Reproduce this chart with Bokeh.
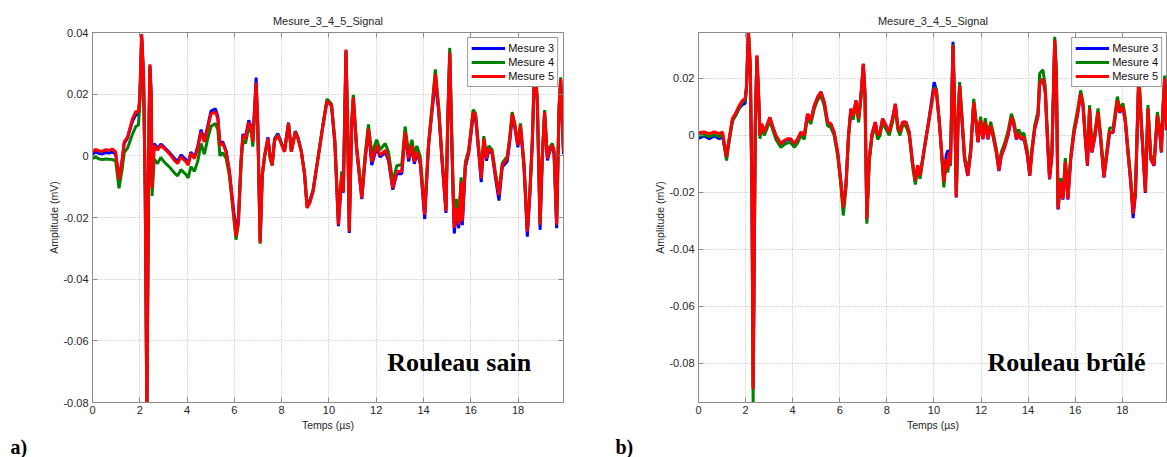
from bokeh.plotting import figure
from bokeh.models import (Range1d, FixedTicker, CustomJSTickFormatter, LinearAxis,
                          Legend, LegendItem, Label, Title)
from bokeh.layouts import row
from bokeh.embed import file_html
from bokeh.resources import INLINE

# ---------------- data ----------------
title_text = "Mesure_3_4_5_Signal"
series_names = ["Mesure 3", "Mesure 4", "Mesure 5"]
x_ticks = [0, 2, 4, 6, 8, 10, 12, 14, 16, 18]
y_ticks_a = [-0.08, -0.06, -0.04, -0.02, 0.0, 0.02, 0.04]
y_ticks_b = [-0.08, -0.06, -0.04, -0.02, 0.0, 0.02]

# panel a) Rouleau sain
t_a = [0.00, 0.13, 0.28, 0.42, 0.56, 0.70, 0.84, 0.98, 1.12, 1.26,
       1.34, 1.48, 1.69, 1.83, 1.94, 2.00, 2.08, 2.16, 2.23, 2.30,
       2.34, 2.39, 2.43, 2.48, 2.52, 2.61, 2.75, 2.89, 3.03, 3.24,
       3.46, 3.60, 3.74, 3.95, 4.05, 4.16, 4.31, 4.45, 4.59, 4.73,
       4.87, 5.01, 5.20, 5.30, 5.39, 5.51, 5.65, 5.79, 5.93, 6.07,
       6.17, 6.29, 6.36, 6.47, 6.61, 6.72, 6.78, 6.92, 6.99, 7.09,
       7.18, 7.28, 7.42, 7.52, 7.60, 7.70, 7.84, 7.98, 8.12, 8.29,
       8.41, 8.58, 8.69, 8.83, 8.97, 9.07, 9.19, 9.33, 9.54, 9.75,
       9.92, 10.11, 10.25, 10.40, 10.54, 10.61, 10.72, 10.79, 10.86, 10.96,
       11.03, 11.17, 11.39, 11.53, 11.67, 11.81, 12.02, 12.16, 12.38, 12.52,
       12.70, 12.87, 13.08, 13.22, 13.37, 13.51, 13.61, 13.72, 13.86, 14.05,
       14.21, 14.36, 14.50, 14.64, 14.78, 14.95, 15.02, 15.11, 15.18, 15.25,
       15.30, 15.39, 15.49, 15.59, 15.64, 15.77, 15.91, 16.10, 16.20, 16.34,
       16.44, 16.55, 16.66, 16.76, 16.90, 17.04, 17.19, 17.33, 17.54, 17.65,
       17.75, 17.86, 17.99, 18.10, 18.25, 18.39, 18.50, 18.60, 18.70, 18.81,
       18.93, 19.02, 19.12, 19.24, 19.35, 19.45, 19.52, 19.63, 19.73, 19.80,
       19.92, 20.00]

a_m3 = [0.0005, 0.0012, 0.0008, 0.0006, 0.0011, 0.0009, 0.0013, 0.0005, -0.0080, -0.0012,
        0.0040, 0.0058, 0.0112, 0.0132, 0.0135, 0.0185, 0.0390, 0.0255, -0.0118, -0.0850,
        -0.0400, 0.0110, 0.0292, 0.0200, -0.0100, 0.0040, 0.0024, 0.0038, 0.0028, 0.0012,
        -0.0008, -0.0018, 0.0003, -0.0012, -0.0024, 0.0012, -0.0004, 0.0030, 0.0085, 0.0052,
        0.0095, 0.0145, 0.0152, 0.0128, 0.0040, 0.0046, 0.0016, -0.0050, -0.0150, -0.0240,
        -0.0200, -0.0005, 0.0070, 0.0062, 0.0115, 0.0092, 0.0050, 0.0254, 0.0104, -0.0275,
        -0.0060, 0.0000, 0.0060, -0.0004, -0.0025, 0.0055, 0.0072, 0.0044, 0.0016, 0.0108,
        0.0016, 0.0080, 0.0060, 0.0016, -0.0058, -0.0155, -0.0145, -0.0110, -0.0005, 0.0100,
        0.0182, 0.0160, 0.0040, -0.0228, -0.0068, -0.0120, 0.0340, 0.0095, -0.0250, 0.0095,
        0.0185, 0.0020, -0.0140, -0.0012, 0.0085, -0.0030, 0.0028, -0.0004, 0.0012, -0.0015,
        -0.0110, -0.0058, -0.0058, 0.0072, -0.0018, 0.0028, -0.0026, 0.0008, -0.0024, -0.0205,
        0.0028, 0.0145, 0.0240, 0.0145, -0.0015, -0.0185, 0.0094, 0.0330, 0.0094, -0.0125,
        -0.0252, -0.0180, -0.0235, -0.0090, -0.0225, -0.0036, 0.0008, 0.0130, 0.0125, 0.0005,
        -0.0085, 0.0050, -0.0016, 0.0018, 0.0008, -0.0070, -0.0145, -0.0036, -0.0018, 0.0048,
        0.0128, 0.0092, 0.0028, 0.0092, -0.0038, -0.0262, -0.0122, 0.0040, 0.0290, 0.0178,
        -0.0240, -0.0015, 0.0136, -0.0015, 0.0018, 0.0028, 0.0006, -0.0235, 0.0146, 0.0245,
        0.0006, 0.0092]

a_m4 = [-0.0008, -0.0004, -0.0010, -0.0012, -0.0010, -0.0011, -0.0012, -0.0016, -0.0105, -0.0040,
        0.0010, 0.0025, 0.0070, 0.0095, 0.0100, 0.0160, 0.0380, 0.0250, -0.0120, -0.0840,
        -0.0400, 0.0090, 0.0285, 0.0190, -0.0130, -0.0010, -0.0025, -0.0005, -0.0020, -0.0035,
        -0.0055, -0.0065, -0.0045, -0.0060, -0.0072, -0.0035, -0.0050, -0.0018, 0.0040, 0.0005,
        0.0055, 0.0095, 0.0105, 0.0085, 0.0000, 0.0010, -0.0008, -0.0065, -0.0168, -0.0272,
        -0.0222, -0.0018, 0.0050, 0.0040, 0.0092, 0.0075, 0.0030, 0.0220, 0.0090, -0.0285,
        -0.0065, -0.0002, 0.0052, -0.0012, -0.0032, 0.0048, 0.0068, 0.0042, 0.0015, 0.0106,
        0.0015, 0.0078, 0.0058, 0.0015, -0.0060, -0.0165, -0.0150, -0.0112, -0.0004, 0.0104,
        0.0184, 0.0168, 0.0052, -0.0205, -0.0050, -0.0100, 0.0340, 0.0108, -0.0240, 0.0110,
        0.0198, 0.0034, -0.0125, 0.0004, 0.0102, 0.0008, 0.0052, 0.0020, 0.0040, 0.0012,
        -0.0085, -0.0032, -0.0028, 0.0095, 0.0010, 0.0052, 0.0002, 0.0032, -0.0002, -0.0180,
        0.0040, 0.0160, 0.0280, 0.0160, 0.0000, -0.0170, 0.0110, 0.0350, 0.0110, -0.0100,
        -0.0220, -0.0140, -0.0210, -0.0070, -0.0200, -0.0020, 0.0020, 0.0150, 0.0138, 0.0022,
        -0.0065, 0.0064, 0.0000, 0.0032, 0.0020, -0.0055, -0.0120, -0.0024, -0.0002, 0.0064,
        0.0142, 0.0105, 0.0040, 0.0105, -0.0024, -0.0240, -0.0110, 0.0050, 0.0300, 0.0188,
        -0.0218, -0.0004, 0.0148, -0.0004, 0.0030, 0.0040, 0.0018, -0.0218, 0.0158, 0.0255,
        0.0018, 0.0104]

a_m5 = [0.0013, 0.0021, 0.0016, 0.0015, 0.0020, 0.0018, 0.0022, 0.0013, -0.0078, -0.0009,
        0.0045, 0.0061, 0.0120, 0.0144, 0.0142, 0.0190, 0.0395, 0.0260, -0.0116, -0.0860,
        -0.0400, 0.0120, 0.0297, 0.0206, -0.0105, 0.0034, 0.0018, 0.0034, 0.0024, 0.0008,
        -0.0014, -0.0025, -0.0003, -0.0019, -0.0030, 0.0008, -0.0009, 0.0024, 0.0077, 0.0045,
        0.0088, 0.0136, 0.0142, 0.0120, 0.0034, 0.0040, 0.0013, -0.0051, -0.0159, -0.0261,
        -0.0212, -0.0009, 0.0066, 0.0056, 0.0109, 0.0088, 0.0045, 0.0238, 0.0099, -0.0282,
        -0.0062, 0.0002, 0.0056, -0.0009, -0.0030, 0.0050, 0.0066, 0.0040, 0.0013, 0.0104,
        0.0013, 0.0077, 0.0056, 0.0013, -0.0062, -0.0169, -0.0153, -0.0116, -0.0009, 0.0099,
        0.0179, 0.0163, 0.0045, -0.0223, -0.0062, -0.0116, 0.0345, 0.0099, -0.0245, 0.0099,
        0.0190, 0.0024, -0.0137, -0.0009, 0.0088, -0.0019, 0.0034, 0.0002, 0.0018, -0.0009,
        -0.0105, -0.0051, -0.0051, 0.0077, -0.0009, 0.0034, -0.0019, 0.0013, -0.0019, -0.0191,
        0.0034, 0.0152, 0.0265, 0.0152, -0.0009, -0.0180, 0.0099, 0.0335, 0.0099, -0.0116,
        -0.0234, -0.0169, -0.0223, -0.0084, -0.0212, -0.0030, 0.0013, 0.0142, 0.0131, 0.0013,
        -0.0073, 0.0056, -0.0009, 0.0024, 0.0013, -0.0062, -0.0127, -0.0030, -0.0009, 0.0056,
        0.0136, 0.0099, 0.0034, 0.0099, -0.0030, -0.0245, -0.0116, 0.0045, 0.0300, 0.0184,
        -0.0223, -0.0009, 0.0142, -0.0009, 0.0024, 0.0034, 0.0013, -0.0223, 0.0152, 0.0250,
        0.0013, 0.0099]

# panel b) Rouleau brûlé
t_b = [0.00, 0.24, 0.45, 0.67, 0.88, 1.02, 1.19, 1.30, 1.44, 1.59,
       1.73, 1.87, 1.98, 2.04, 2.12, 2.20, 2.27, 2.32, 2.38, 2.41,
       2.48, 2.55, 2.61, 2.68, 2.79, 2.90, 3.03, 3.14, 3.29, 3.50,
       3.64, 3.78, 3.92, 4.07, 4.21, 4.35, 4.49, 4.63, 4.77, 4.92,
       5.06, 5.20, 5.34, 5.48, 5.62, 5.76, 5.91, 6.05, 6.15, 6.26,
       6.37, 6.47, 6.57, 6.69, 6.80, 6.90, 7.00, 7.07, 7.15, 7.25,
       7.37, 7.51, 7.61, 7.71, 7.82, 7.96, 8.10, 8.24, 8.36, 8.46,
       8.56, 8.67, 8.81, 8.95, 9.09, 9.21, 9.31, 9.41, 9.59, 9.80,
       10.01, 10.10, 10.24, 10.42, 10.52, 10.59, 10.66, 10.70, 10.81, 10.88,
       10.95, 11.02, 11.09, 11.16, 11.30, 11.44, 11.56, 11.69, 11.80, 11.87,
       11.98, 12.08, 12.18, 12.29, 12.41, 12.51, 12.65, 12.76, 12.86, 13.00,
       13.14, 13.29, 13.40, 13.50, 13.60, 13.71, 13.82, 13.97, 14.07, 14.16,
       14.28, 14.42, 14.49, 14.63, 14.73, 14.82, 14.91, 15.01, 15.13, 15.20,
       15.27, 15.38, 15.48, 15.58, 15.69, 15.81, 15.95, 16.09, 16.23, 16.33,
       16.43, 16.52, 16.61, 16.71, 16.83, 16.97, 17.08, 17.22, 17.32, 17.46,
       17.61, 17.79, 17.89, 18.03, 18.13, 18.24, 18.36, 18.46, 18.56, 18.70,
       18.81, 18.98, 19.09, 19.21, 19.35, 19.49, 19.59, 19.66, 19.73, 19.80,
       19.87]

b_m3 = [-0.0010, -0.0002, -0.0012, -0.0002, -0.0012, -0.0002, -0.0078, -0.0016, 0.0052, 0.0072,
        0.0095, 0.0108, 0.0112, 0.0165, 0.0365, 0.0240, -0.0205, -0.0885, -0.0300, 0.0030,
        0.0278, 0.0150, 0.0000, 0.0040, 0.0010, 0.0033, 0.0062, 0.0033, -0.0002, -0.0030,
        -0.0020, -0.0014, -0.0014, -0.0030, -0.0014, 0.0010, -0.0002, 0.0074, 0.0052, 0.0104,
        0.0134, 0.0152, 0.0116, 0.0046, 0.0040, 0.0010, -0.0060, -0.0166, -0.0255, -0.0178,
        -0.0002, 0.0092, 0.0068, 0.0122, 0.0058, 0.0140, 0.0250, 0.0150, -0.0295, -0.0084,
        0.0004, 0.0046, -0.0002, 0.0010, 0.0058, 0.0034, 0.0010, 0.0058, 0.0110, 0.0034,
        0.0010, 0.0046, 0.0046, 0.0010, -0.0096, -0.0160, -0.0106, -0.0142, -0.0045, 0.0064,
        0.0187, 0.0160, 0.0034, -0.0166, -0.0070, -0.0053, -0.0060, -0.0100, 0.0328, 0.0094,
        -0.0218, 0.0034, 0.0175, 0.0092, -0.0084, -0.0142, -0.0060, 0.0116, 0.0034, -0.0024,
        0.0052, -0.0014, 0.0046, -0.0014, 0.0034, -0.0002, -0.0060, -0.0125, -0.0072, -0.0042,
        -0.0002, 0.0062, 0.0034, -0.0014, 0.0004, -0.0014, -0.0008, -0.0072, -0.0142, -0.0060,
        0.0022, 0.0068, 0.0180, 0.0198, 0.0150, -0.0014, -0.0154, -0.0072, 0.0332, 0.0210,
        -0.0260, -0.0166, -0.0225, -0.0096, -0.0225, -0.0084, 0.0010, 0.0068, 0.0145, 0.0104,
        -0.0014, -0.0107, 0.0092, -0.0060, -0.0008, 0.0080, -0.0014, -0.0148, -0.0084, 0.0010,
        0.0010, 0.0122, 0.0080, 0.0098, 0.0046, -0.0060, -0.0170, -0.0290, -0.0205, 0.0208,
        0.0034, -0.0202, 0.0092, -0.0084, -0.0107, 0.0068, 0.0010, -0.0060, 0.0092, 0.0198,
        0.0018]

b_m4 = [-0.0002, 0.0002, -0.0004, 0.0002, -0.0004, 0.0002, -0.0088, -0.0024, 0.0050, 0.0072,
        0.0098, 0.0116, 0.0124, 0.0168, 0.0360, 0.0240, -0.0210, -0.0940, -0.0320, 0.0025,
        0.0272, 0.0140, -0.0012, 0.0030, 0.0000, 0.0022, 0.0052, 0.0022, -0.0014, -0.0042,
        -0.0032, -0.0026, -0.0026, -0.0042, -0.0026, 0.0000, -0.0014, 0.0064, 0.0040, 0.0094,
        0.0124, 0.0140, 0.0104, 0.0034, 0.0028, 0.0000, -0.0072, -0.0178, -0.0281, -0.0190,
        -0.0014, 0.0082, 0.0056, 0.0112, 0.0046, 0.0130, 0.0244, 0.0140, -0.0310, -0.0095,
        -0.0006, 0.0034, -0.0014, 0.0000, 0.0046, 0.0022, 0.0000, 0.0046, 0.0100, 0.0022,
        0.0000, 0.0034, 0.0034, 0.0000, -0.0108, -0.0172, -0.0118, -0.0152, -0.0052, 0.0058,
        0.0168, 0.0162, 0.0040, -0.0182, -0.0090, -0.0130, -0.0068, -0.0108, 0.0320, 0.0100,
        -0.0215, 0.0045, 0.0187, 0.0104, -0.0070, -0.0130, -0.0046, 0.0128, 0.0046, -0.0010,
        0.0066, 0.0000, 0.0060, 0.0000, 0.0048, 0.0012, -0.0046, -0.0110, -0.0058, -0.0028,
        0.0012, 0.0076, 0.0048, 0.0002, 0.0020, 0.0002, 0.0008, -0.0056, -0.0128, -0.0046,
        0.0036, 0.0084, 0.0217, 0.0230, 0.0172, 0.0002, -0.0140, -0.0056, 0.0346, 0.0224,
        -0.0245, -0.0150, -0.0210, -0.0080, -0.0210, -0.0070, 0.0026, 0.0084, 0.0158, 0.0118,
        0.0002, -0.0092, 0.0106, -0.0046, 0.0008, 0.0095, 0.0002, -0.0132, -0.0068, 0.0026,
        0.0026, 0.0136, 0.0094, 0.0112, 0.0060, -0.0046, -0.0150, -0.0262, -0.0186, 0.0222,
        0.0048, -0.0186, 0.0106, -0.0068, -0.0092, 0.0082, 0.0026, -0.0046, 0.0106, 0.0210,
        0.0032]

b_m5 = [0.0009, 0.0012, 0.0006, 0.0012, 0.0006, 0.0012, -0.0076, -0.0012, 0.0059, 0.0080,
        0.0105, 0.0123, 0.0129, 0.0176, 0.0370, 0.0246, -0.0200, -0.0890, -0.0300, 0.0035,
        0.0281, 0.0152, 0.0000, 0.0041, 0.0012, 0.0035, 0.0064, 0.0035, 0.0000, -0.0029,
        -0.0018, -0.0012, -0.0012, -0.0029, -0.0012, 0.0012, 0.0000, 0.0076, 0.0053, 0.0105,
        0.0135, 0.0152, 0.0117, 0.0047, 0.0041, 0.0012, -0.0059, -0.0164, -0.0252, -0.0176,
        0.0000, 0.0094, 0.0070, 0.0123, 0.0059, 0.0141, 0.0252, 0.0152, -0.0293, -0.0082,
        0.0006, 0.0047, 0.0000, 0.0012, 0.0059, 0.0035, 0.0012, 0.0059, 0.0111, 0.0035,
        0.0012, 0.0047, 0.0047, 0.0012, -0.0094, -0.0158, -0.0105, -0.0141, -0.0047, 0.0059,
        0.0164, 0.0158, 0.0035, -0.0164, -0.0082, -0.0117, -0.0059, -0.0100, 0.0316, 0.0094,
        -0.0217, 0.0035, 0.0176, 0.0094, -0.0082, -0.0141, -0.0059, 0.0117, 0.0035, -0.0023,
        0.0053, -0.0012, 0.0047, -0.0012, 0.0035, 0.0000, -0.0059, -0.0123, -0.0070, -0.0041,
        0.0000, 0.0064, 0.0035, -0.0012, 0.0006, -0.0012, -0.0006, -0.0070, -0.0141, -0.0059,
        0.0023, 0.0070, 0.0182, 0.0199, 0.0152, -0.0012, -0.0152, -0.0070, 0.0334, 0.0211,
        -0.0258, -0.0164, -0.0223, -0.0094, -0.0223, -0.0082, 0.0012, 0.0070, 0.0146, 0.0105,
        -0.0012, -0.0105, 0.0094, -0.0059, -0.0006, 0.0082, -0.0012, -0.0146, -0.0082, 0.0012,
        0.0012, 0.0123, 0.0082, 0.0100, 0.0047, -0.0059, -0.0164, -0.0275, -0.0199, 0.0210,
        0.0035, -0.0199, 0.0094, -0.0082, -0.0105, 0.0070, 0.0012, -0.0059, 0.0094, 0.0200,
        0.0020]

# ---------------- styling ----------------
SANS = "Liberation Sans"
SERIF = "Liberation Serif"
AX_COL = "#8c8c8c"
TXT_COL = "#262626"
COLORS = ["#0000ff", "#008000", "#ff0000"]


def style_axis(ax, labels=True):
    ax.axis_line_color = AX_COL
    ax.major_tick_line_color = AX_COL
    ax.major_tick_in = 5
    ax.major_tick_out = 0
    ax.minor_tick_line_color = None
    ax.major_label_text_font = SANS
    ax.major_label_text_font_size = "11px"
    ax.major_label_text_color = TXT_COL
    ax.major_label_standoff = 4
    ax.axis_label_text_font = SANS
    ax.axis_label_text_font_size = "10.5px"
    ax.axis_label_text_font_style = "normal"
    ax.axis_label_text_color = TXT_COL
    if not labels:
        ax.formatter = CustomJSTickFormatter(code="return '';")
        ax.major_label_standoff = 0


def make_panel(t, s3, s4, s5, xmax, yr, yticks, width, mb_left, mb_right, mb_bottom,
               right_axis, note, note_xy, tag, tag_offset):
    p = figure(width=width, height=457, x_range=Range1d(0, xmax), y_range=Range1d(*yr),
               output_backend="svg", toolbar_location=None,
               min_border_left=mb_left, min_border_right=mb_right,
               min_border_top=32, min_border_bottom=mb_bottom)
    p.background_fill_color = "white"
    p.border_fill_color = "white"
    p.outline_line_color = AX_COL
    p.outline_line_width = 1

    p.title.text = title_text
    p.title.align = "center"
    p.title.text_font = SANS
    p.title.text_font_size = "11px"
    p.title.text_font_style = "normal"
    p.title.text_color = TXT_COL
    p.title.standoff = 12

    xt = FixedTicker(ticks=x_ticks)
    yt = FixedTicker(ticks=yticks)
    p.xaxis.ticker = xt
    p.yaxis.ticker = yt
    p.yaxis.formatter = CustomJSTickFormatter(
        code="return Math.abs(tick) < 1e-9 ? '0' : tick.toFixed(2);")
    p.xaxis.axis_label = "Temps (µs)"
    p.yaxis.axis_label = "Amplitude (mV)"
    for ax in p.xaxis + p.yaxis:
        style_axis(ax)
    p.xaxis.major_label_standoff = 3
    p.xaxis.axis_label_standoff = 2
    p.yaxis.axis_label_standoff = 0

    top = LinearAxis(ticker=FixedTicker(ticks=x_ticks))
    style_axis(top, labels=False)
    p.add_layout(top, "above")
    if right_axis:
        rt = LinearAxis(ticker=FixedTicker(ticks=yticks))
        style_axis(rt, labels=False)
        p.add_layout(rt, "right")

    p.xgrid.ticker = xt
    p.ygrid.ticker = yt
    for g in (p.xgrid, p.ygrid):
        g.grid_line_color = "#b4b4b4"
        g.grid_line_dash = "1 2"
        g.grid_line_width = 1

    rs = []
    for ys, c in zip((s3, s4, s5), COLORS):
        rs.append(p.line(t, ys, line_color=c, line_width=3))

    leg = Legend(items=[LegendItem(label=n, renderers=[r]) for n, r in zip(series_names, rs)],
                 location="top_right")
    leg.margin = 5
    leg.padding = 3
    leg.spacing = 0
    leg.glyph_width = 34
    leg.glyph_height = 14
    leg.label_height = 14
    leg.label_standoff = 3
    leg.label_text_font = SANS
    leg.label_text_font_size = "11px"
    leg.label_text_color = "#111111"
    leg.border_line_color = "#333333"
    leg.border_line_width = 1
    leg.background_fill_color = "white"
    leg.background_fill_alpha = 1.0
    p.add_layout(leg)

    p.add_layout(Label(x=note_xy[0], y=note_xy[1], text=note, text_font=SERIF,
                       text_font_style="bold", text_font_size="26px", text_color="black",
                       text_baseline="alphabetic", text_align="left"))
    p.add_layout(Title(text=tag, align="left", offset=tag_offset, text_font=SERIF,
                       text_font_style="bold", text_font_size="20px", text_color="black",
                       standoff=0), "below")
    return p


pA = make_panel(t_a, a_m3, a_m4, a_m5, 19.92, (-0.08, 0.04), y_ticks_a,
                600, 92, 37, 54, True, "Rouleau sain", (12.47, -0.0669), "a)", -82)
pB = make_panel(t_b, b_m3, b_m4, b_m5, 19.92, (-0.0937, 0.0361), y_ticks_b,
                567, 98, 0, 53, False, "Rouleau brûlé", (12.27, -0.0795), "b)", -83)

layout = row(pA, pB)
open("out.html", "w").write(file_html(layout, INLINE))
